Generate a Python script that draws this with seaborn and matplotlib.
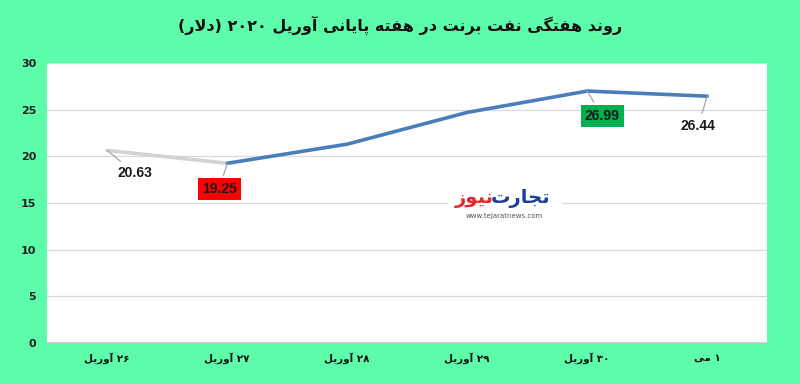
import re
import matplotlib
matplotlib.use("Agg")
import matplotlib.pyplot as plt
from matplotlib.patches import Rectangle
import seaborn as sns
import pandas as pd

# ---------------- data ----------------
title = "روند هفتگی نفت برنت در هفته پایانی آوریل ۲۰۲۰ (دلار)"
categories = ["۲۶ آوریل", "۲۷ آوریل", "۲۸ آوریل", "۲۹ آوریل", "۳۰ آوریل", "۱ می"]
prices = [20.63, 19.25, 21.3, 24.7, 26.99, 26.44]
labelled = {0: "20.63", 1: "19.25", 4: "26.99", 5: "26.44"}
yticks = [0, 5, 10, 15, 20, 25, 30]
logo_right = "تجارت"
logo_left = "نیوز"
logo_url = "www.tejaratnews.com"

# ------------- minimal Persian shaping -------------
FORMS = {
    'ا': ('\uFE8D', '\uFE8E', None, None),
    'آ': ('\uFE81', '\uFE82', None, None),
    'ب': ('\uFE8F', '\uFE90', '\uFE91', '\uFE92'),
    'پ': ('\uFB56', '\uFB57', '\uFB58', '\uFB59'),
    'ت': ('\uFE95', '\uFE96', '\uFE97', '\uFE98'),
    'ج': ('\uFE9D', '\uFE9E', '\uFE9F', '\uFEA0'),
    'د': ('\uFEA9', '\uFEAA', None, None),
    'ر': ('\uFEAD', '\uFEAE', None, None),
    'ز': ('\uFEAF', '\uFEB0', None, None),
    'ف': ('\uFED1', '\uFED2', '\uFED3', '\uFED4'),
    'گ': ('\uFB92', '\uFB93', '\uFB94', '\uFB95'),
    'ل': ('\uFEDD', '\uFEDE', '\uFEDF', '\uFEE0'),
    'م': ('\uFEE1', '\uFEE2', '\uFEE3', '\uFEE4'),
    'ن': ('\uFEE5', '\uFEE6', '\uFEE7', '\uFEE8'),
    'ه': ('\uFEE9', '\uFEEA', '\uFEEB', '\uFEEC'),
    'و': ('\uFEED', '\uFEEE', None, None),
    'ی': ('\uFBFC', '\uFBFD', '\uFBFE', '\uFBFF'),
}


def shape(s):
    out = []
    i, n = 0, len(s)
    while i < n:
        c = s[i]
        if c not in FORMS:
            out.append(c)
            i += 1
            continue
        prev = s[i - 1] if i > 0 else ''
        jp = prev in FORMS and FORMS[prev][2] is not None
        if c == 'ل' and i + 1 < n and s[i + 1] in 'اآ':
            lig = {'ا': ('\uFEFB', '\uFEFC'), 'آ': ('\uFEF5', '\uFEF6')}[s[i + 1]]
            out.append(lig[1] if jp else lig[0])
            i += 2
            continue
        nxt = s[i + 1] if i + 1 < n else ''
        f = FORMS[c]
        jn = f[2] is not None and nxt in FORMS
        if jp and jn:
            g = f[3]
        elif jp:
            g = f[1]
        elif jn:
            g = f[2]
        else:
            g = f[0]
        out.append(g)
        i += 1
    return ''.join(out)


def fa(s):
    r = shape(s)[::-1]
    r = r.translate(str.maketrans('()', ')('))
    return re.sub(r'[0-9\u06F0-\u06F9.]+', lambda m: m.group(0)[::-1], r)


# ---------------- plot ----------------
BG = '#5dfcaa'
sns.set_theme(style="white")
plt.rcParams['font.family'] = ['DejaVu Sans']

fig = plt.figure(figsize=(8, 3.84), dpi=100, facecolor=BG)
ax = fig.add_axes([0.059, 0.107, 0.9, 0.729])
ax.set_facecolor('white')

df = pd.DataFrame({'x': range(len(categories)), 'y': prices})
sns.lineplot(data=df.iloc[0:2], x='x', y='y', ax=ax, color='#d3d3d3', lw=2.6)
sns.lineplot(data=df.iloc[1:], x='x', y='y', ax=ax, color='#4a7ebb', lw=2.6)

ax.set_xlim(-0.5, len(categories) - 0.5)
ax.set_ylim(0, 30)
ax.set_yticks(yticks)
ax.set_yticklabels([str(v) for v in yticks], fontsize=8, fontweight='bold', color='#222222')
ax.set_xticks(range(len(categories)))
ax.set_xticklabels([fa(c) for c in categories], fontsize=7.5, fontweight='bold', color='#111111')
ax.set_xticks([i + 0.5 for i in range(-1, len(categories))], minor=True)
ax.tick_params(axis='x', which='major', length=0, pad=7)
ax.tick_params(axis='x', which='minor', length=4, color='#d9d9d9', width=1, direction='in')
ax.tick_params(axis='y', length=0, pad=8)
ax.set_xlabel('')
ax.set_ylabel('')
for y in yticks[1:]:
    ax.axhline(y, color='#d9d9d9', lw=0.9, zorder=0)
ax.axhline(0, color='#c8c8c8', lw=1.2, zorder=1)
for sp in ax.spines.values():
    sp.set_visible(False)

# data labels
offsets = {0: (28, -23), 1: (-8, -26), 4: (15, -25), 5: (-9, -30)}
boxes = {1: '#ff0000', 4: '#00b050'}
for i, txt in labelled.items():
    dx, dy = offsets[i]
    bbox = None
    if i in boxes:
        bbox = dict(boxstyle='square,pad=0.3', fc=boxes[i], ec='none')
    ax.annotate(txt, xy=(i, prices[i]), xytext=(dx, dy),
                textcoords='offset pixels', ha='center', va='center',
                fontsize=10, fontweight='bold', color='#1a1a1a',
                family='Liberation Sans', bbox=bbox,
                arrowprops=dict(arrowstyle='-', color='#a6a6a6', lw=0.9,
                                shrinkA=2, shrinkB=0))

# watermark logo (white patch hides gridline behind it)
fig.patches.append(Rectangle((448 / 800, 1 - 228 / 384), 114 / 800, 46 / 384,
                             transform=fig.transFigure, fc='white', ec='none',
                             zorder=3))
fig.text(550 / 800, 1 - 198 / 384, fa(logo_right), ha='right', va='center',
         fontsize=14, fontweight='bold', color='#1f3f93', zorder=4)
fig.text(494 / 800, 1 - 198 / 384, fa(logo_left), ha='right', va='center',
         fontsize=14, fontweight='bold', color='#e8262b', zorder=4)
fig.text(504 / 800, 1 - 216 / 384, logo_url, ha='center', va='center',
         fontsize=5, color='#555555', zorder=4)

fig.text(0.5, 0.935, fa(title), ha='center', va='center', fontsize=11.5,
         fontweight='bold', color='#111111')

fig.savefig('out.png', dpi=100, facecolor=BG)
